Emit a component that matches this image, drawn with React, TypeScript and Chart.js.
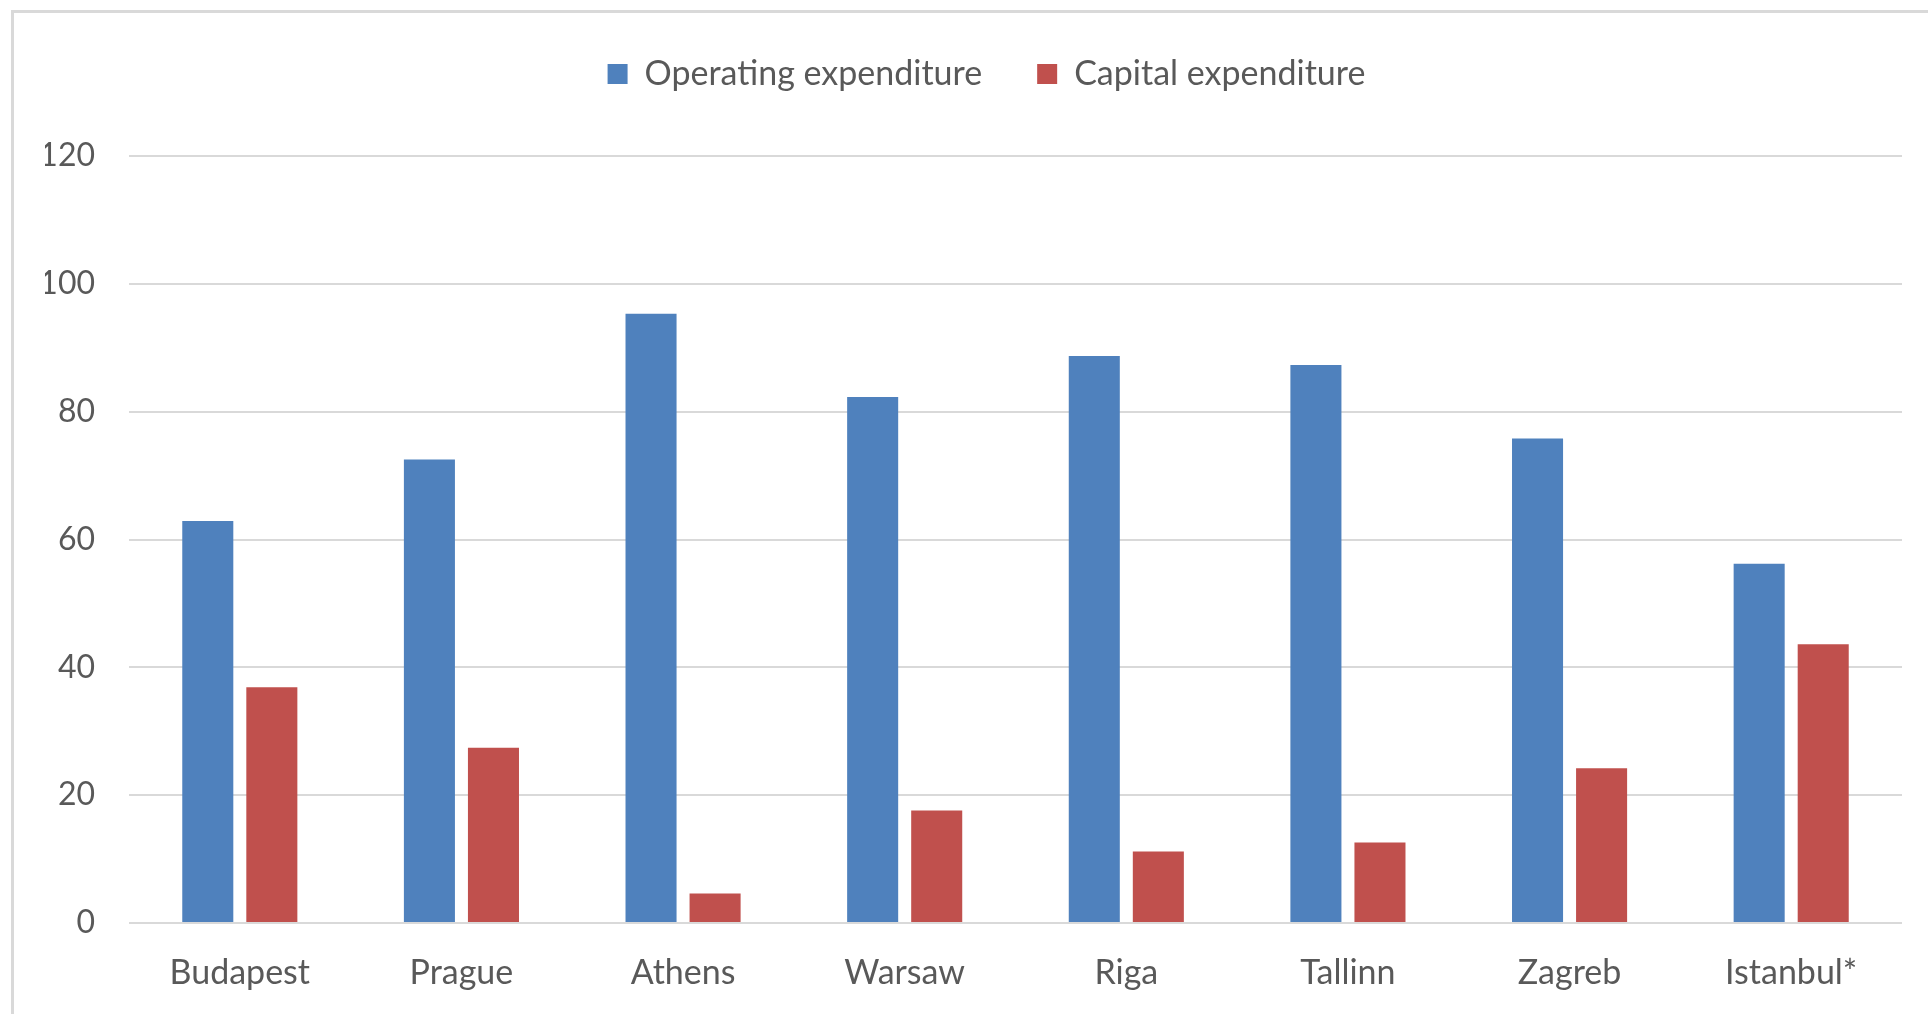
import React, { useEffect, useRef } from "react";
import { Chart, registerables } from "chart.js";

Chart.register(...registerables);

const categories = ["Budapest", "Prague", "Athens", "Warsaw", "Riga", "Tallinn", "Zagreb", "Istanbul*"];
const operatingExpenditure = [62.9, 72.5, 95.3, 82.3, 88.7, 87.3, 75.8, 56.2];
const capitalExpenditure = [36.9, 27.4, 4.6, 17.6, 11.2, 12.6, 24.2, 43.6];
const seriesNames = ["Operating expenditure", "Capital expenditure"];
const yTicks = [0, 20, 40, 60, 80, 100, 120];

const BLUE = "#4F81BD";
const RED = "#C0504D";
const TEXT = "#595959";
const GRID = "#D9D9D9";
const FONT = "Lato, 'Open Sans', sans-serif";

export default function App() {
  const ref = useRef<HTMLCanvasElement | null>(null);

  useEffect(() => {
    if (!ref.current) return;
    const legendSpacer = {
      id: "legendSpacer",
      beforeInit(chart: any) {
        const orig = chart.legend.fit;
        chart.legend.fit = function () {
          orig.bind(chart.legend)();
          this.height += 55;
        };
      },
    };
    const chart = new Chart(ref.current, {
      type: "bar",
      data: {
        labels: categories,
        datasets: [
          {
            label: seriesNames[0],
            data: operatingExpenditure,
            backgroundColor: BLUE,
            borderWidth: 0,
            categoryPercentage: 0.578,
            barPercentage: 0.797,
          },
          {
            label: seriesNames[1],
            data: capitalExpenditure,
            backgroundColor: RED,
            borderWidth: 0,
            categoryPercentage: 0.578,
            barPercentage: 0.797,
          },
        ],
      },
      options: {
        responsive: false,
        animation: false,
        devicePixelRatio: 1,
        layout: { padding: { left: 45, right: 0, top: 2, bottom: 0 } },
        plugins: {
          legend: {
            display: true,
            position: "top",
            align: "center",
            labels: {
              boxWidth: 20,
              boxHeight: 20,
              padding: 55,
              color: TEXT,
              font: { family: FONT, size: 34 },
            },
          },
          tooltip: { enabled: false },
          title: { display: false },
        },
        scales: {
          x: {
            grid: { display: false, drawTicks: false },
            border: { display: false },
            ticks: {
              color: TEXT,
              font: { family: FONT, size: 34 },
              padding: 30,
              maxRotation: 0,
              autoSkip: false,
            },
            afterFit: (s: any) => {
              s.height = 91;
            },
          },
          y: {
            min: 0,
            max: 120,
            afterBuildTicks: (s: any) => {
              s.ticks = yTicks.map((v) => ({ value: v }));
            },
            grid: { color: GRID, lineWidth: 2, drawTicks: false },
            border: { display: false },
            ticks: {
              color: TEXT,
              font: { family: FONT, size: 32 },
              padding: 34,
            },
            afterFit: (s: any) => {
              s.width = 84;
            },
          },
          yRight: {
            position: "right",
            display: true,
            grid: { display: false, drawTicks: false },
            border: { display: false },
            ticks: { display: false },
            afterFit: (s: any) => {
              s.width = 26;
            },
          },
        },
      },
      plugins: [legendSpacer],
    } as any);
    return () => chart.destroy();
  }, []);

  return (
    <div
      style={{
        position: "absolute",
        left: 0,
        top: 0,
        width: 1928,
        height: 1014,
        overflow: "hidden",
        background: "#ffffff",
      }}
    >
      <div
        style={{
          position: "absolute",
          left: 11,
          top: 10,
          width: 2000,
          height: 1100,
          border: `3px solid ${GRID}`,
          boxSizing: "border-box",
        }}
      />
      <canvas
        ref={ref}
        width={1928}
        height={1014}
        style={{ position: "absolute", left: 0, top: 0, width: 1928, height: 1014 }}
      />
    </div>
  );
}
